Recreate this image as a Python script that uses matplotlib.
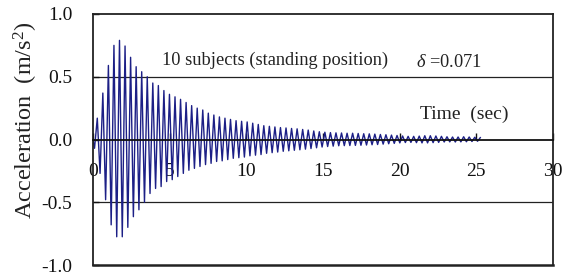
import numpy as np
import matplotlib
matplotlib.use("Agg")
import matplotlib.pyplot as plt

# ---------------- data ----------------
signal_start_time = 0.0
signal_start_value = 0.0
first_extremum_time = 0.099     # s, first (negative) extremum
half_period = 0.181             # s, spacing between successive extrema

# positive peaks (m/s^2), one per cycle
pos_peaks = [0.17, 0.37, 0.59, 0.75, 0.79, 0.745, 0.655, 0.58, 0.54, 0.50,
             0.45, 0.43, 0.39, 0.36, 0.34, 0.32, 0.295, 0.27, 0.25, 0.235,
             0.21, 0.195, 0.18, 0.17, 0.16, 0.15, 0.145, 0.14, 0.13, 0.12,
             0.11, 0.105, 0.10,
             0.095, 0.092, 0.088, 0.085, 0.08, 0.075, 0.068, 0.062, 0.058, 0.055,
             0.053, 0.052, 0.05, 0.05, 0.048, 0.046, 0.045, 0.043, 0.04, 0.038,
             0.035, 0.032, 0.028, 0.025, 0.025, 0.027, 0.03, 0.03, 0.028, 0.025,
             0.022, 0.02, 0.02, 0.022, 0.02, 0.018, 0.015]

# negative peaks (m/s^2), the first one precedes the first positive peak
neg_peaks = [-0.07,
             -0.27, -0.48, -0.68, -0.775, -0.775, -0.70, -0.615, -0.56, -0.50, -0.43,
             -0.39, -0.375, -0.335, -0.32, -0.295, -0.27, -0.245, -0.23, -0.215, -0.20,
             -0.19, -0.175, -0.17, -0.16, -0.15, -0.145, -0.14, -0.13, -0.125, -0.12,
             -0.11, -0.105, -0.10,
             -0.094, -0.09, -0.086, -0.082, -0.077, -0.072, -0.066, -0.06, -0.056,
             -0.053, -0.05, -0.049, -0.048, -0.047, -0.046, -0.044, -0.042, -0.04,
             -0.037, -0.034, -0.031, -0.027, -0.024, -0.023, -0.025, -0.027, -0.027,
             -0.025, -0.023, -0.02, -0.019, -0.02, -0.019, -0.018, -0.016, -0.014]

x_ticks = [0, 5, 10, 15, 20, 25, 30]
x_tick_labels = ["0", "5", "10", "15", "20", "25", "30"]
y_ticks = [-1.0, -0.5, 0.0, 0.5, 1.0]
y_tick_labels = ["-1.0", "-0.5", "0.0", "0.5", "1.0"]

title_text = "10 subjects (standing position)"
delta_text = r"$\delta$ =0.071"
time_label = "Time  (sec)"
y_label = "Acceleration  (m/s$^2$)"

# ---------------- build the series ----------------
assert len(neg_peaks) == len(pos_peaks)
extrema = []
for n, p in zip(neg_peaks, pos_peaks):
    extrema.extend([n, p])
extrema = np.array(extrema)
t_ext = first_extremum_time + half_period * np.arange(len(extrema))
t = np.concatenate([[signal_start_time], t_ext])
a = np.concatenate([[signal_start_value], extrema])

# ---------------- style ----------------
plt.rcParams["font.family"] = ["Liberation Serif", "DejaVu Serif"]
plt.rcParams["mathtext.fontset"] = "custom"
plt.rcParams["mathtext.rm"] = "Liberation Serif"
plt.rcParams["mathtext.it"] = "Liberation Serif:italic"

fig = plt.figure(figsize=(5.64, 2.72), dpi=100)
ax = fig.add_axes([93 / 564, 1 - 265 / 272, 460 / 564, 251 / 272])

ax.plot(t, a, color="#1c1f86", lw=1.0, zorder=2)

ax.set_xlim(0, 30)
ax.set_ylim(-1, 1)

for sp in ["left", "right", "top"]:
    ax.spines[sp].set_linewidth(1.3)
    ax.spines[sp].set_color("#222222")
ax.spines["bottom"].set_position(("data", 0))
ax.spines["bottom"].set_linewidth(1.3)
ax.spines["bottom"].set_color("#111111")
ax.axhline(-1.0, color="#222222", lw=1.8, clip_on=False, zorder=3)

for yv in (0.5, -0.5):
    ax.axhline(yv, color="#222222", lw=0.9, zorder=1)

ax.set_xticks(x_ticks)
ax.set_xticklabels(x_tick_labels)
ax.set_yticks(y_ticks)
ax.set_yticklabels(y_tick_labels)
ax.tick_params(axis="x", direction="in", length=5, width=1.0, pad=17,
               labelsize=14, colors="#111111")
ax.tick_params(axis="y", direction="in", length=4, width=1.0, pad=15,
               labelsize=14, colors="#111111")

ax.text(4.48, 0.594, title_text, fontsize=13.2, ha="left", va="baseline",
        color="#222222")
ax.text(21.05, 0.58, delta_text, fontsize=13.2, ha="left", va="baseline",
        color="#222222")
ax.text(21.33, 0.161, time_label, fontsize=14, ha="left", va="baseline",
        color="#222222")

fig.text(26 / 564, 1 - 120 / 272, y_label, rotation=90, ha="center",
         va="center", fontsize=17.5, color="#222222")

fig.savefig("out.png", dpi=100)
